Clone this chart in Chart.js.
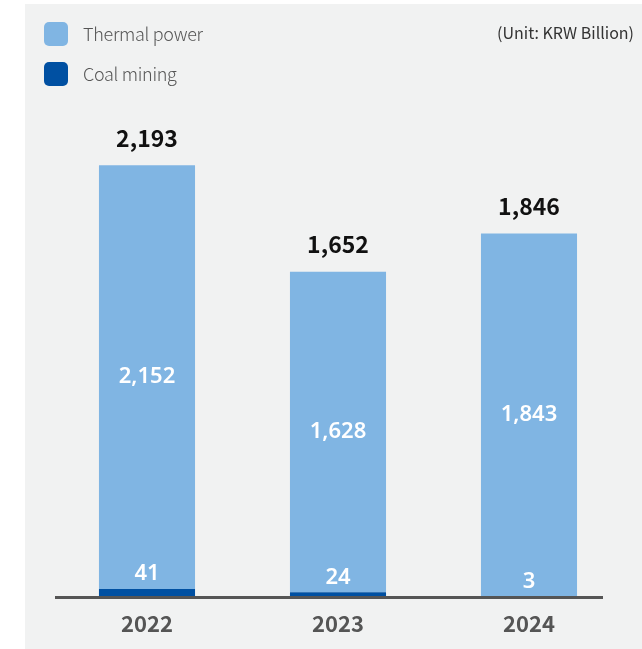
<!DOCTYPE html>
<html>
<head>
<meta charset="utf-8">
<script src="https://cdn.jsdelivr.net/npm/chart.js@4"></script>
<style>
  body { margin: 0; background: #fff; font-family: "Noto Sans CJK KR", "Noto Sans", sans-serif; }
  #wrap { position: relative; width: 642px; height: 649px; overflow: hidden; }
  #panel { position: absolute; left: 25px; top: 4px; right: 0; bottom: 0; background: #f1f2f2; }
  #chart { position: absolute; left: 0; top: 0; }
  .legend { position: absolute; left: 44px; display: flex; align-items: center; font-size: 18px; font-weight: 300; color: #555; letter-spacing: -0.3px; }
  .legend i { display: inline-block; width: 24px; height: 24px; border-radius: 5px; margin-right: 15px; }
  .legend span { position: relative; top: -1px; }
  #unit { position: absolute; right: 8px; top: 20px; font-size: 16px; color: #333; }
</style>
</head>
<body>
<div id="wrap">
  <div id="panel"></div>
  <canvas id="chart" width="642" height="649"></canvas>
  <div class="legend" style="top:21px"><i style="background:#80b5e3"></i><span>Thermal power</span></div>
  <div class="legend" style="top:61px"><i style="background:#0050a2"></i><span>Coal mining</span></div>
  <div id="unit">(Unit: KRW Billion)</div>
</div>
<script>
const years = ['2022', '2023', '2024'];
const coalMining = [41, 24, 3];
const thermalPower = [2152, 1628, 1843];
const totals = [2193, 1652, 1846];

const fmt = v => v.toLocaleString('en-US');

// axis line + value labels
const labelPlugin = {
  id: 'labels',
  afterDatasetsDraw(chart) {
    const ctx = chart.ctx;
    const area = chart.chartArea;
    ctx.save();
    ctx.strokeStyle = '#555';
    ctx.lineWidth = 3;
    ctx.beginPath();
    ctx.moveTo(area.left + 3.5, area.bottom + 0.5);
    ctx.lineTo(area.right - 21.5, area.bottom + 0.5);
    ctx.stroke();

    const coalMeta = chart.getDatasetMeta(0);
    const thermMeta = chart.getDatasetMeta(1);
    ctx.textAlign = 'center';
    ctx.textBaseline = 'middle';
    years.forEach((y, i) => {
      const c = coalMeta.data[i];
      const t = thermMeta.data[i];
      ctx.fillStyle = '#fff';
      ctx.font = '600 22px "Noto Sans", "Noto Sans CJK KR", sans-serif';
      ctx.fillText(fmt(thermalPower[i]), t.x, (t.y + t.base) / 2);
      ctx.fillText(fmt(coalMining[i]), c.x, c.y - 15);
      ctx.fillStyle = '#111';
      ctx.font = 'bold 23px "Noto Sans CJK KR", "Noto Sans", sans-serif';
      ctx.fillText(fmt(totals[i]), t.x, t.y - 27);
    });
    ctx.restore();
  }
};

new Chart(document.getElementById('chart'), {
  type: 'bar',
  data: {
    labels: years,
    datasets: [
      { label: 'Coal mining', data: coalMining, backgroundColor: '#0050a2', borderWidth: 0 },
      { label: 'Thermal power', data: thermalPower, backgroundColor: '#80b5e3', borderWidth: 0 }
    ]
  },
  options: {
    responsive: false,
    animation: false,
    layout: { padding: { top: 85, left: 51.5, right: 17.5, bottom: 0 } },
    datasets: { bar: { barPercentage: 0.503, categoryPercentage: 1 } },
    plugins: { legend: { display: false }, tooltip: { enabled: false } },
    scales: {
      x: {
        stacked: true,
        grid: { display: false, drawTicks: false },
        border: { display: false },
        ticks: { color: '#555', padding: 13, font: { family: '"Noto Sans CJK KR", "Noto Sans", sans-serif', size: 22, weight: 'bold' } },
        afterFit: s => { s.height = 52; }
      },
      y: { stacked: true, display: false, min: 0, max: 2600 }
    }
  },
  plugins: [labelPlugin]
});
</script>
</body>
</html>
